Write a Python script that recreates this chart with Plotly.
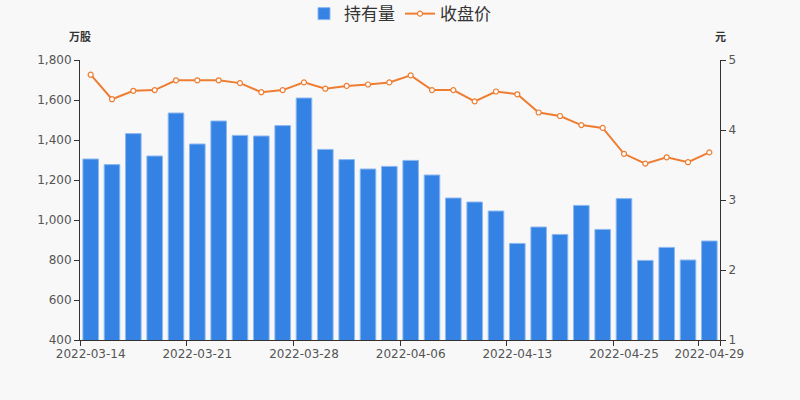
import plotly.graph_objects as go

dates = [
    "2022-03-14", "2022-03-15", "2022-03-16", "2022-03-17", "2022-03-18",
    "2022-03-21", "2022-03-22", "2022-03-23", "2022-03-24", "2022-03-25",
    "2022-03-28", "2022-03-29", "2022-03-30", "2022-03-31", "2022-04-01",
    "2022-04-06", "2022-04-07", "2022-04-08",
    "2022-04-11", "2022-04-12", "2022-04-13", "2022-04-14", "2022-04-15",
    "2022-04-19", "2022-04-21",
    "2022-04-25", "2022-04-26", "2022-04-27", "2022-04-28", "2022-04-29",
]

holdings = [
    1305, 1277, 1432, 1320, 1535, 1380, 1495, 1423, 1420, 1472,
    1610, 1353, 1302, 1255, 1268, 1298, 1225, 1110, 1090, 1045,
    883, 965, 928, 1073, 953, 1107, 798, 863, 800, 895,
]

close_price = [
    4.79, 4.44, 4.56, 4.57, 4.71, 4.71, 4.71, 4.67, 4.54, 4.57,
    4.68, 4.59, 4.63, 4.65, 4.68, 4.78, 4.57, 4.57, 4.41, 4.55,
    4.51, 4.25, 4.20, 4.07, 4.03, 3.66, 3.52, 3.61, 3.54, 3.68,
]

tick_labels = ["2022-03-14", "2022-03-21", "2022-03-28", "2022-04-06",
               "2022-04-13", "2022-04-25", "2022-04-29"]

bar_color = "#3482E3"
line_color = "#EE7D31"
axis_color = "#333333"
text_color = "#555555"
bg_color = "#F8F8F8"
font_family = "DejaVu Sans, Noto Sans CJK SC, sans-serif"

fig = go.Figure()
fig.add_trace(go.Bar(
    x=dates, y=holdings, name="持有量",
    marker=dict(color=bar_color, line=dict(color="#8DB8F0", width=1)),
    yaxis="y",
))
fig.add_trace(go.Scatter(
    x=dates, y=close_price, name="收盘价", mode="lines+markers",
    line=dict(color=line_color, width=2),
    marker=dict(symbol="circle", size=5, color="white",
                line=dict(color=line_color, width=1.2)),
    yaxis="y2",
))

fig.update_layout(
    width=800, height=400,
    margin=dict(l=80, r=80, t=60, b=60, autoexpand=False),
    paper_bgcolor=bg_color, plot_bgcolor=bg_color,
    font=dict(family=font_family, size=12, color=text_color),
    bargap=0.27,
    showlegend=True,
    legend=dict(orientation="h", x=0.5, xanchor="center", y=1.164, yanchor="middle",
                font=dict(size=17, color="#333333",
                          family="Noto Sans CJK SC, sans-serif"),
                bgcolor="rgba(0,0,0,0)", itemwidth=30, tracegroupgap=0),
    xaxis=dict(
        type="category", categoryorder="array", categoryarray=dates,
        tickmode="array", tickvals=tick_labels, ticktext=tick_labels,
        tickson="boundaries", tickangle=0, automargin=False,
        ticks="outside", ticklen=5, tickcolor=axis_color,
        ticklabelstandoff=3,
        showline=True, linecolor=axis_color, linewidth=1,
        showgrid=False, zeroline=False,
        tickfont=dict(size=12, color=text_color),
        range=[-0.5, len(dates) - 0.5],
    ),
    yaxis=dict(
        range=[400, 1800], dtick=200, tick0=400, tickformat=",",
        ticks="outside", ticklen=5, tickcolor=axis_color, automargin=False,
        showline=True, linecolor=axis_color, linewidth=1,
        showgrid=False, zeroline=False,
        tickfont=dict(size=12, color=text_color),
    ),
    yaxis2=dict(
        overlaying="y", side="right", range=[1, 5], dtick=1, tick0=1,
        ticks="outside", ticklen=5, tickcolor=axis_color, automargin=False,
        showline=True, linecolor=axis_color, linewidth=1,
        showgrid=False, zeroline=False,
        tickfont=dict(size=12, color=text_color),
    ),
    annotations=[
        dict(text="<b>万股</b>", xref="paper", yref="paper", x=0, y=1.0,
             xanchor="center", yanchor="bottom", yshift=14, showarrow=False,
             font=dict(size=11, color="#333333",
                       family="Noto Sans CJK SC, sans-serif")),
        dict(text="<b>元</b>", xref="paper", yref="paper", x=1, y=1.0,
             xanchor="center", yanchor="bottom", yshift=14, showarrow=False,
             font=dict(size=11, color="#333333",
                       family="Noto Sans CJK SC, sans-serif")),
    ],
)

fig.write_html(
    "out.html",
    config={"displayModeBar": False},
    post_script="document.body.style.margin='0';"
                "document.body.style.background='#F8F8F8';",
)
